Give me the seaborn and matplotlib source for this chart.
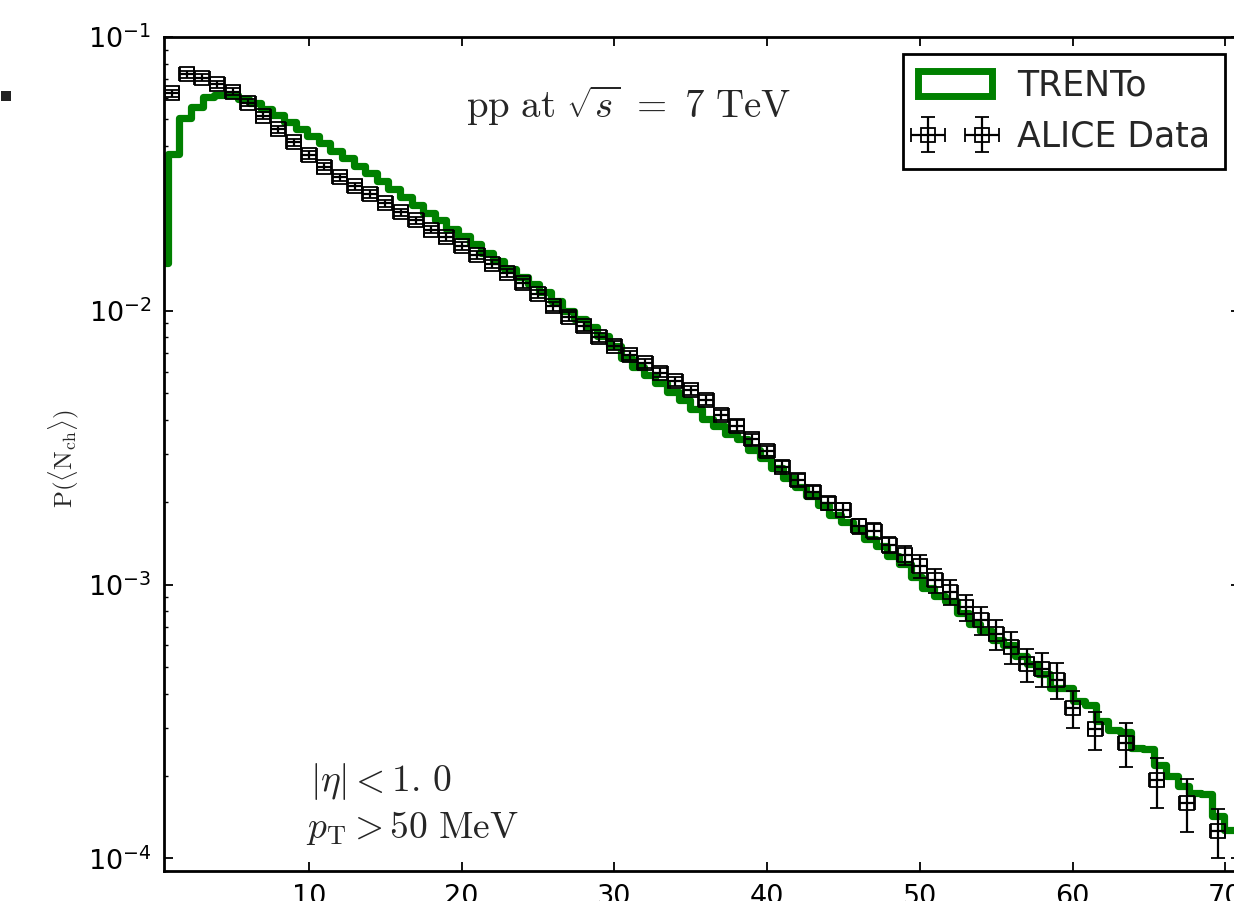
import numpy as np
import pandas as pd
import matplotlib
matplotlib.use("Agg")
import matplotlib.pyplot as plt
import seaborn as sns
from matplotlib.patches import Patch, Rectangle
from matplotlib.ticker import LogLocator, LogFormatterSciNotation, MultipleLocator, NullFormatter

# ---------------- data ----------------
alice_nch = [1, 2, 3, 4, 5, 6, 7, 8, 9, 10,
             11, 12, 13, 14, 15, 16, 17, 18, 19, 20,
             21, 22, 23, 24, 25, 26, 27, 28, 29, 30,
             31, 32, 33, 34, 35, 36, 37, 38, 39, 40,
             41, 42, 43, 44, 45, 46, 47, 48, 49, 50,
             51, 52, 53, 54, 55, 56, 57, 58, 59, 60,
             61.5, 63.5, 65.5, 67.5, 69.5]
alice_p = [0.0623, 0.0731, 0.0710, 0.0672, 0.0632, 0.0575, 0.0516, 0.0460, 0.0413, 0.0371,
           0.0336, 0.0307, 0.0285, 0.0267, 0.0247, 0.0229, 0.0214, 0.0198, 0.0186, 0.0172,
           0.0160, 0.0148, 0.0137, 0.0126, 0.0115, 0.0104, 0.00953, 0.00877, 0.00802, 0.00747,
           0.00687, 0.00644, 0.00595, 0.00552, 0.00512, 0.00471, 0.00418, 0.00381, 0.00340, 0.00308,
           0.00270, 0.00242, 0.00218, 0.00198, 0.00188, 0.00164, 0.00157, 0.00140, 0.00128, 0.00117,
           0.00104, 0.000938, 0.000826, 0.000741, 0.000662, 0.000592, 0.000512, 0.000492, 0.000450, 0.000355,
           0.000296, 0.000264, 0.000193, 0.000160, 0.000126]
alice_rel_err = [0.030, 0.030, 0.030, 0.030, 0.030, 0.030, 0.030, 0.030, 0.030, 0.030,
                 0.030, 0.030, 0.031, 0.031, 0.031, 0.032, 0.032, 0.032, 0.033, 0.033,
                 0.033, 0.034, 0.034, 0.035, 0.035, 0.036, 0.036, 0.037, 0.037, 0.038,
                 0.038, 0.039, 0.039, 0.040, 0.041, 0.042, 0.043, 0.044, 0.045, 0.046,
                 0.047, 0.050, 0.053, 0.056, 0.060, 0.063, 0.066, 0.070, 0.080, 0.095,
                 0.100, 0.105, 0.110, 0.120, 0.125, 0.130, 0.135, 0.140, 0.150, 0.155,
                 0.160, 0.180, 0.210, 0.220, 0.200]
alice_xerr = 0.5

trento_bin_width = 0.76
trento_p = [0.0150, 0.0374, 0.0505, 0.0557, 0.0605, 0.0614, 0.0612, 0.0593, 0.0573, 0.0545,
            0.0518, 0.0488, 0.0461, 0.0434, 0.0409, 0.0384, 0.0361, 0.0339, 0.0318, 0.0297,
            0.0279, 0.0260, 0.0243, 0.0228, 0.0214, 0.0199, 0.0187, 0.0175, 0.0163, 0.0152,
            0.0142, 0.0133, 0.0125, 0.0117, 0.0109, 0.0100, 0.00937, 0.00875, 0.00806, 0.00741,
            0.00672, 0.00623, 0.00584, 0.00544, 0.00505, 0.00471, 0.00439, 0.00403, 0.00381, 0.00355,
            0.00340, 0.00311, 0.00290, 0.00267, 0.00245, 0.00227, 0.00210, 0.00196, 0.00180, 0.00170,
            0.00159, 0.00147, 0.00138, 0.00127, 0.00119, 0.00107, 0.000973, 0.000906, 0.000869, 0.000788,
            0.000721, 0.000676, 0.000630, 0.000604, 0.000547, 0.000515, 0.000470, 0.000420, 0.000418, 0.000376,
            0.000365, 0.000317, 0.000294, 0.000290, 0.000253, 0.000252, 0.000220, 0.000200, 0.000184, 0.000174,
            0.000172, 0.000143, 0.000127]

legend_labels = ["TRENTo", "ALICE Data"]

# ---------------- style ----------------
sns.set_style("ticks")
plt.rcParams.update({
    "font.family": ["DejaVu Sans"],
    "mathtext.fontset": "cm",
    "axes.linewidth": 2.0,
    "axes.edgecolor": "black",
    "xtick.color": "black", "ytick.color": "black",
    "xtick.direction": "in", "ytick.direction": "in",
    "xtick.top": True, "ytick.right": True,
    "xtick.major.size": 6.5, "ytick.major.size": 6.5,
    "xtick.minor.size": 3.2, "ytick.minor.size": 3.2,
    "xtick.major.width": 1.3, "ytick.major.width": 1.3,
    "xtick.minor.width": 1.0, "ytick.minor.width": 1.0,
    "xtick.major.pad": 9, "ytick.major.pad": 9,
    "xtick.labelsize": 19.5, "ytick.labelsize": 19.5,
})

W, H = 1234, 901
fig = plt.figure(figsize=(W / 100, H / 100), dpi=100)
fig.patch.set_facecolor("white")
ax = fig.add_axes([163.9 / W, 30 / H, (1240.5 - 163.9) / W, 834 / H])
ax.set_facecolor("white")
ax.set_yscale("log")

# TRENTo histogram (step)
edges = trento_bin_width * np.arange(len(trento_p) + 1)
centers = 0.5 * (edges[:-1] + edges[1:])
df_trento = pd.DataFrame({"nch": centers, "p": trento_p})
sns.histplot(data=df_trento, x="nch", weights="p", bins=list(edges), element="step",
             fill=False, color="#008000", linewidth=5.2, ax=ax, zorder=2)

# ALICE data
alice_p_arr = np.array(alice_p)
yerr = alice_p_arr * np.array(alice_rel_err)
eb = ax.errorbar(alice_nch, alice_p, xerr=alice_xerr, yerr=yerr, fmt="s",
                 mfc="none", mec="black", mew=1.3, ms=10.5,
                 ecolor="black", elinewidth=1.6, capsize=5, capthick=1.3, zorder=3)

ax.set_xlim(0.5, 71)
ax.set_ylim(9e-5, 1e-1)
ax.xaxis.set_major_locator(MultipleLocator(10))
ax.xaxis.set_minor_locator(plt.NullLocator())
ax.yaxis.set_major_locator(LogLocator(base=10))
ax.yaxis.set_minor_locator(LogLocator(base=10, subs=np.arange(2, 10)))
ax.yaxis.set_major_formatter(LogFormatterSciNotation())
ax.yaxis.set_minor_formatter(NullFormatter())
ax.set_xlabel("")
ax.set_ylabel("")
for s in ax.spines.values():
    s.set_visible(True)
    s.set_linewidth(2.0)
    s.set_color("black")

# texts
ax.text(0.432, 0.903, r"$\mathrm{pp\ at}\ \sqrt{s}\ =\ 7\ \mathrm{TeV}$",
        transform=ax.transAxes, ha="center", va="baseline", fontsize=28)
ax.text(0.136, 0.0955, r"$|\eta| < 1.\,0$", transform=ax.transAxes,
        ha="left", va="baseline", fontsize=27)
ax.text(0.132, 0.0390, r"$p_{\mathrm{T}} > 50\ \mathrm{MeV}$", transform=ax.transAxes,
        ha="left", va="baseline", fontsize=27)
fig.text(64 / W, 1 - 459 / H, r"$\mathrm{P(\langle N_{ch}\rangle)}$", rotation=90,
         ha="center", va="center", fontsize=18)

# legend
trento_handle = Patch(facecolor="white", edgecolor="#008000", linewidth=5)
leg = ax.legend([trento_handle, eb], legend_labels, loc="upper right",
                bbox_to_anchor=((1225 - 163.9) / (1240.5 - 163.9), 1 - 17 / 834),
                borderaxespad=0, fontsize=25,
                numpoints=2, fancybox=False, frameon=True, handlelength=2.15,
                handleheight=0.75, handletextpad=0.72, borderpad=0.42, labelspacing=0.5)
leg.get_frame().set_edgecolor("black")
leg.get_frame().set_linewidth(2.0)
leg.get_frame().set_alpha(1)

# small stray marker at the left edge of the reference figure
fig.add_artist(Rectangle((1 / W, 1 - 101 / H), 10 / W, 10 / H, transform=fig.transFigure,
                         facecolor="#222222", edgecolor="none"))

fig.savefig("out.png", dpi=100, facecolor="white")
